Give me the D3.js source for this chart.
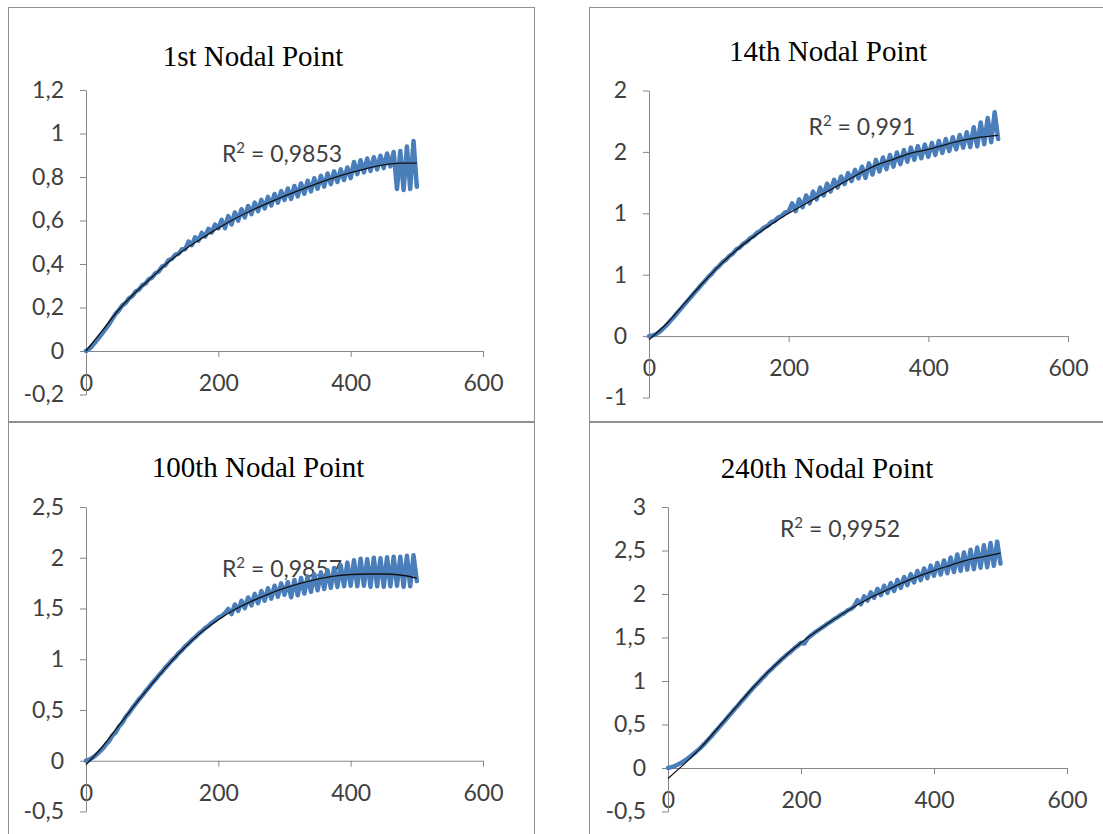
<!DOCTYPE html>
<html>
<head>
<meta charset="utf-8">
<script src="https://cdn.jsdelivr.net/npm/d3@7"></script>
<style>
  body { margin: 0; background: #fff; }
  svg { display: block; }
</style>
</head>
<body>
<svg id="chart" width="1103" height="834"></svg>
<script>
// Displacement histories at four nodal points, sampled every 5 time steps (0..500),
// with the polynomial trend line sampled every 25 steps.
const steps = d3.range(0, 501, 5);
const trendSteps = d3.range(0, 501, 25);
const xTicks = [0, 200, 400, 600];

const node1Values = [
  0.000, 0.010, 0.026, 0.044, 0.063, 0.083, 0.103, 0.124, 0.148, 0.172,
  0.188, 0.210, 0.221, 0.242, 0.252, 0.274, 0.282, 0.302, 0.310, 0.330,
  0.338, 0.358, 0.366, 0.388, 0.395, 0.418, 0.424, 0.443, 0.447, 0.468,
  0.468, 0.503, 0.487, 0.523, 0.507, 0.543, 0.526, 0.562, 0.545, 0.581,
  0.564, 0.603, 0.565, 0.620, 0.582, 0.637, 0.599, 0.652, 0.614, 0.667,
  0.629, 0.682, 0.643, 0.695, 0.656, 0.709, 0.669, 0.722, 0.682, 0.735,
  0.695, 0.747, 0.699, 0.759, 0.711, 0.771, 0.723, 0.783, 0.734, 0.794,
  0.746, 0.805, 0.756, 0.816, 0.767, 0.826, 0.777, 0.835, 0.786, 0.844,
  0.795, 0.869, 0.813, 0.877, 0.821, 0.885, 0.828, 0.891, 0.835, 0.898,
  0.841, 0.908, 0.849, 0.915, 0.745, 0.920, 0.740, 0.940, 0.745, 0.965,
  0.755
];
const node1Trend = [0.000, 0.095, 0.192, 0.270, 0.340, 0.410, 0.468, 0.518, 0.565, 0.608,
  0.646, 0.680, 0.712, 0.742, 0.771, 0.797, 0.820, 0.840, 0.856, 0.864, 0.864];

const node14Values = [
  0.000, 0.005, 0.015, 0.035, 0.060, 0.088, 0.120, 0.152, 0.186, 0.218,
  0.252, 0.285, 0.318, 0.352, 0.384, 0.418, 0.448, 0.482, 0.508, 0.544,
  0.568, 0.600, 0.620, 0.652, 0.672, 0.706, 0.722, 0.752, 0.768, 0.798,
  0.814, 0.842, 0.858, 0.885, 0.898, 0.928, 0.938, 0.966, 0.978, 1.008,
  1.015, 1.081, 1.017, 1.113, 1.049, 1.145, 1.081, 1.177, 1.113, 1.209,
  1.145, 1.241, 1.177, 1.273, 1.209, 1.300, 1.238, 1.327, 1.263, 1.354,
  1.285, 1.379, 1.288, 1.407, 1.316, 1.435, 1.340, 1.455, 1.360, 1.475,
  1.380, 1.495, 1.400, 1.515, 1.420, 1.535, 1.436, 1.547, 1.448, 1.559,
  1.460, 1.573, 1.476, 1.589, 1.492, 1.605, 1.507, 1.619, 1.521, 1.638,
  1.535, 1.660, 1.540, 1.700, 1.545, 1.740, 1.563, 1.776, 1.579, 1.822,
  1.605
];
const node14Trend = [-0.030, 0.100, 0.260, 0.420, 0.570, 0.700, 0.810, 0.910, 1.000, 1.080,
  1.160, 1.240, 1.320, 1.390, 1.440, 1.490, 1.520, 1.560, 1.595, 1.620, 1.635];

const node100Values = [
  0.000, 0.010, 0.030, 0.055, 0.085, 0.118, 0.160, 0.195, 0.250, 0.280,
  0.340, 0.375, 0.432, 0.470, 0.520, 0.560, 0.605, 0.640, 0.685, 0.722,
  0.765, 0.800, 0.842, 0.876, 0.918, 0.952, 0.990, 1.020, 1.060, 1.090,
  1.128, 1.155, 1.190, 1.216, 1.250, 1.276, 1.306, 1.328, 1.358, 1.380,
  1.410, 1.425, 1.455, 1.495, 1.445, 1.540, 1.476, 1.577, 1.503, 1.609,
  1.530, 1.644, 1.553, 1.672, 1.576, 1.700, 1.597, 1.724, 1.616, 1.748,
  1.635, 1.760, 1.610, 1.780, 1.630, 1.800, 1.648, 1.816, 1.664, 1.837,
  1.680, 1.856, 1.692, 1.878, 1.704, 1.900, 1.713, 1.926, 1.719, 1.952,
  1.725, 1.975, 1.720, 1.990, 1.725, 1.985, 1.715, 2.000, 1.720, 1.995,
  1.715, 2.005, 1.720, 2.010, 1.725, 2.010, 1.715, 2.020, 1.720, 2.025,
  1.770
];
const node100Trend = [-0.040, 0.140, 0.350, 0.560, 0.760, 0.950, 1.120, 1.270, 1.390, 1.490,
  1.570, 1.640, 1.700, 1.750, 1.790, 1.820, 1.835, 1.840, 1.840, 1.830, 1.800];

const node240Values = [
  0.000, 0.010, 0.022, 0.040, 0.060, 0.085, 0.112, 0.140, 0.172, 0.205,
  0.240, 0.280, 0.322, 0.362, 0.408, 0.450, 0.496, 0.538, 0.585, 0.628,
  0.675, 0.716, 0.763, 0.805, 0.851, 0.893, 0.937, 0.975, 1.018, 1.055,
  1.099, 1.132, 1.171, 1.205, 1.243, 1.276, 1.311, 1.340, 1.376, 1.405,
  1.440, 1.430, 1.490, 1.522, 1.552, 1.578, 1.606, 1.630, 1.660, 1.682,
  1.712, 1.732, 1.762, 1.780, 1.812, 1.828, 1.860, 1.929, 1.881, 1.973,
  1.925, 2.018, 1.956, 2.059, 1.987, 2.095, 2.013, 2.126, 2.034, 2.162,
  2.070, 2.196, 2.102, 2.228, 2.134, 2.265, 2.159, 2.293, 2.182, 2.326,
  2.210, 2.357, 2.224, 2.386, 2.238, 2.420, 2.252, 2.454, 2.266, 2.478,
  2.280, 2.508, 2.286, 2.534, 2.302, 2.560, 2.308, 2.586, 2.324, 2.602,
  2.350
];
const node240Trend = [-0.120, 0.050, 0.240, 0.460, 0.680, 0.900, 1.100, 1.280, 1.440, 1.580,
  1.710, 1.830, 1.940, 2.030, 2.120, 2.200, 2.270, 2.330, 2.390, 2.430, 2.470];

const titles = ["1st Nodal Point", "14th Nodal Point", "100th Nodal Point", "240th Nodal Point"];
const r2Labels = ["0,9853", "0,991", "0,9857", "0,9952"];

const yTicks1 = [-0.2, 0, 0.2, 0.4, 0.6, 0.8, 1, 1.2];
const yTickLabels1 = ["-0,2", "0", "0,2", "0,4", "0,6", "0,8", "1", "1,2"];
const yTicks14 = [-0.5, 0, 0.5, 1, 1.5, 2];
const yTickLabels14 = ["-1", "0", "1", "1", "2", "2"];
const yTicks100 = [-0.5, 0, 0.5, 1, 1.5, 2, 2.5];
const yTickLabels100 = ["-0,5", "0", "0,5", "1", "1,5", "2", "2,5"];
const yTicks240 = [-0.5, 0, 0.5, 1, 1.5, 2, 2.5, 3];
const yTickLabels240 = ["-0,5", "0", "0,5", "1", "1,5", "2", "2,5", "3"];

// Panel layout (pixels)
const panels = [
  { values: node1Values, trend: node1Trend, title: titles[0], r2: r2Labels[0],
    yTicks: yTicks1, yLabels: yTickLabels1,
    frame: [8.5, 7.5, 526, 414], xr: [86, 483], yr: [394.5, 90],
    titleAt: [253, 66], r2At: [282, 162] },
  { values: node14Values, trend: node14Trend, title: titles[1], r2: r2Labels[1],
    yTicks: yTicks14, yLabels: yTickLabels14,
    frame: [589.5, 7.5, 540, 414], xr: [649, 1068], yr: [397.5, 90.5],
    titleAt: [828, 61], r2At: [862, 135] },
  { values: node100Values, trend: node100Trend, title: titles[2], r2: r2Labels[2],
    yTicks: yTicks100, yLabels: yTickLabels100,
    frame: [8.5, 422.5, 526, 440], xr: [86, 483], yr: [811.5, 507],
    titleAt: [258, 477], r2At: [282, 577] },
  { values: node240Values, trend: node240Trend, title: titles[3], r2: r2Labels[3],
    yTicks: yTicks240, yLabels: yTickLabels240,
    frame: [589.5, 422.5, 540, 440], xr: [668, 1067], yr: [811.5, 507],
    titleAt: [827, 478], r2At: [840, 537] }
];

const svg = d3.select("#chart");
const axisColor = "#868686";
const labelColor = "#404040";
const sansFont = "Lato, 'Open Sans', sans-serif";
const serifFont = "'Liberation Serif', 'DejaVu Serif', serif";

panels.forEach(p => {
  const g = svg.append("g");

  // frame
  g.append("rect")
    .attr("x", p.frame[0]).attr("y", p.frame[1])
    .attr("width", p.frame[2]).attr("height", p.frame[3])
    .attr("fill", "none").attr("stroke", "#8f8f8f").attr("stroke-width", 1);

  const x = d3.scaleLinear().domain([0, 600]).range(p.xr);
  const y = d3.scaleLinear()
    .domain([p.yTicks[0], p.yTicks[p.yTicks.length - 1]])
    .range(p.yr);

  // title
  g.append("text")
    .attr("x", p.titleAt[0]).attr("y", p.titleAt[1])
    .attr("text-anchor", "middle")
    .style("font-family", serifFont).style("font-size", "29px")
    .attr("fill", "#000")
    .text(p.title);

  // x axis sits on y = 0
  const xAxis = g.append("g")
    .attr("transform", `translate(0,${y(0)})`)
    .call(d3.axisBottom(x).tickValues(xTicks).tickSizeInner(6).tickSizeOuter(0)
      .tickPadding(18).tickFormat(d3.format("d")));
  xAxis.select(".domain").attr("stroke", axisColor);
  xAxis.selectAll(".tick line").attr("stroke", axisColor);
  xAxis.selectAll(".tick text")
    .style("font-family", sansFont).style("font-size", "23px").attr("fill", labelColor);

  // y axis
  const labelOf = new Map(p.yTicks.map((t, i) => [t, p.yLabels[i]]));
  const yAxis = g.append("g")
    .attr("transform", `translate(${x(0)},0)`)
    .call(d3.axisLeft(y).tickValues(p.yTicks).tickSizeInner(6).tickSizeOuter(0)
      .tickPadding(16).tickFormat(d => labelOf.get(d)));
  yAxis.select(".domain").attr("stroke", axisColor);
  yAxis.selectAll(".tick line").attr("stroke", axisColor);
  yAxis.selectAll(".tick text")
    .style("font-family", sansFont).style("font-size", "23px").attr("fill", labelColor);

  // R² label
  const r2 = g.append("text")
    .attr("x", p.r2At[0]).attr("y", p.r2At[1])
    .attr("text-anchor", "middle")
    .style("font-family", sansFont).style("font-size", "23px")
    .attr("fill", labelColor);
  r2.append("tspan").text("R");
  r2.append("tspan").attr("font-size", "15px").attr("dy", "-9").text("2");
  r2.append("tspan").attr("dy", "9").text(" = " + p.r2);

  // blue displacement series
  const line = d3.line()
    .x((d, i) => x(steps[i]))
    .y(d => y(d));
  g.append("path")
    .datum(p.values)
    .attr("d", line)
    .attr("fill", "none")
    .attr("stroke", "#4a7ebb")
    .attr("stroke-width", 4.5)
    .attr("stroke-linejoin", "round")
    .attr("stroke-linecap", "round");

  // polynomial trend line
  const tline = d3.line()
    .x((d, i) => x(trendSteps[i]))
    .y(d => y(d))
    .curve(d3.curveMonotoneX);
  g.append("path")
    .datum(p.trend)
    .attr("d", tline)
    .attr("fill", "none")
    .attr("stroke", "#111")
    .attr("stroke-width", 1.3);
});
</script>
</body>
</html>
